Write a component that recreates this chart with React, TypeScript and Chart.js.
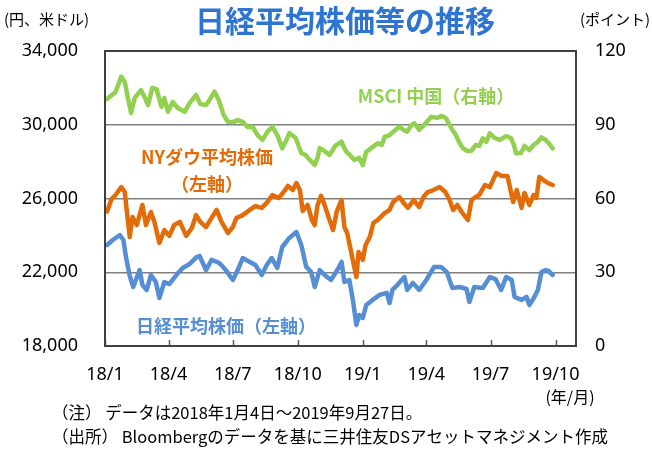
import { useEffect, useRef } from "react";
import { Chart, registerables } from "chart.js";

Chart.register(...registerables);

// ---- data ----
const tickDates = ["2018-01-01", "2018-04-01", "2018-07-01", "2018-10-01", "2019-01-01", "2019-04-01", "2019-07-01", "2019-10-01"];
const tickLabels = ["18/1", "18/4", "18/7", "18/10", "19/1", "19/4", "19/7", "19/10"];
const axisStart = "2018-01-01";
const axisEnd = "2019-10-30";

const leftTicks = { min: 18000, max: 34000, step: 4000 };
const rightTicks = { min: 0, max: 120, step: 30 };

const nikkeiDates = [
  "2018-01-04", "2018-01-12", "2018-01-22", "2018-01-27", "2018-01-31", "2018-02-05", "2018-02-10", "2018-02-19", "2018-02-23", "2018-03-01",
  "2018-03-07", "2018-03-14", "2018-03-19", "2018-03-26", "2018-04-02", "2018-04-12", "2018-04-21", "2018-05-01", "2018-05-11", "2018-05-15",
  "2018-05-24", "2018-06-01", "2018-06-12", "2018-06-21", "2018-07-01", "2018-07-08", "2018-07-15", "2018-07-25", "2018-08-02", "2018-08-11",
  "2018-08-18", "2018-08-25", "2018-09-02", "2018-09-09", "2018-09-19", "2018-09-29", "2018-10-06", "2018-10-13", "2018-10-20", "2018-10-25",
  "2018-11-01", "2018-11-08", "2018-11-17", "2018-11-26", "2018-12-02", "2018-12-06", "2018-12-13", "2018-12-18", "2018-12-23", "2018-12-27",
  "2019-01-01", "2019-01-06", "2019-01-15", "2019-01-25", "2019-02-04", "2019-02-08", "2019-02-12", "2019-02-19", "2019-03-01", "2019-03-05",
  "2019-03-13", "2019-03-22", "2019-04-01", "2019-04-12", "2019-04-22", "2019-04-30", "2019-05-08", "2019-05-18", "2019-05-28", "2019-06-01",
  "2019-06-08", "2019-06-20", "2019-06-30", "2019-07-08", "2019-07-16", "2019-07-23", "2019-07-31", "2019-08-04", "2019-08-14", "2019-08-21",
  "2019-08-25", "2019-09-01", "2019-09-06", "2019-09-11", "2019-09-17", "2019-09-21", "2019-09-27",
];
const nikkeiValues = [
  23480, 23750, 24020, 23750, 22770, 21800, 21200, 22120, 21310, 21040,
  21850, 21470, 20600, 21470, 21360, 21850, 22230, 22450, 22830, 22880,
  22120, 22670, 22500, 22120, 21580, 22120, 22770, 22560, 22390, 21850,
  22390, 22770, 22230, 23370, 23860, 24180, 23480, 22290, 22010, 21200,
  22120, 21850, 21580, 22120, 22560, 21470, 21580, 20500, 19140, 19680,
  19520, 20220, 20500, 20770, 20880, 20330, 21040, 21310, 21740, 21040,
  21420, 21040, 21580, 22290, 22290, 22010, 21150, 21200, 21090, 20390,
  21200, 21150, 21740, 21630, 21040, 21740, 21580, 20660, 20500, 20660,
  20220, 20660, 21040, 22010, 22120, 22070, 21850,
];

const dowDates = [
  "2018-01-04", "2018-01-10", "2018-01-16", "2018-01-24", "2018-01-29", "2018-02-05", "2018-02-09", "2018-02-15", "2018-02-23", "2018-02-28",
  "2018-03-07", "2018-03-12", "2018-03-19", "2018-03-26", "2018-04-02", "2018-04-09", "2018-04-17", "2018-04-26", "2018-05-04", "2018-05-10",
  "2018-05-16", "2018-05-24", "2018-05-30", "2018-06-08", "2018-06-15", "2018-06-24", "2018-07-01", "2018-07-06", "2018-07-15", "2018-07-25",
  "2018-08-02", "2018-08-11", "2018-08-18", "2018-08-26", "2018-09-04", "2018-09-11", "2018-09-17", "2018-09-24", "2018-09-29", "2018-10-04",
  "2018-10-08", "2018-10-15", "2018-10-21", "2018-10-25", "2018-10-29", "2018-11-03", "2018-11-08", "2018-11-14", "2018-11-20", "2018-11-25",
  "2018-12-02", "2018-12-06", "2018-12-10", "2018-12-15", "2018-12-23", "2018-12-26", "2018-12-29", "2019-01-01", "2019-01-05", "2019-01-11",
  "2019-01-16", "2019-01-22", "2019-02-01", "2019-02-08", "2019-02-13", "2019-02-22", "2019-02-28", "2019-03-06", "2019-03-14", "2019-03-22",
  "2019-03-28", "2019-04-03", "2019-04-11", "2019-04-20", "2019-04-28", "2019-05-04", "2019-05-09", "2019-05-15", "2019-05-21", "2019-05-30",
  "2019-06-04", "2019-06-10", "2019-06-15", "2019-06-23", "2019-06-30", "2019-07-09", "2019-07-17", "2019-07-25", "2019-08-02", "2019-08-07",
  "2019-08-14", "2019-08-18", "2019-08-25", "2019-08-31", "2019-09-04", "2019-09-08", "2019-09-14", "2019-09-20", "2019-09-27",
];
const dowValues = [
  25300, 25950, 26190, 26620, 26350, 23910, 25000, 24560, 25650, 24560,
  25270, 24730, 23590, 24290, 23970, 24560, 24730, 23970, 24400, 25100,
  24730, 24450, 24830, 25380, 24730, 24130, 24450, 24940, 25100, 25380,
  25590, 25490, 25760, 26190, 26030, 26350, 26680, 26460, 26840, 26460,
  25320, 25650, 24830, 24560, 25650, 26140, 25650, 24940, 24290, 25270,
  25920, 24450, 24130, 23210, 21740, 23100, 22940, 22670, 23480, 23910,
  24670, 24830, 25210, 25380, 25810, 26080, 25760, 25490, 25920, 25540,
  26080, 26350, 26460, 26620, 26350, 25920, 25380, 25650, 25270, 24830,
  25920, 26080, 26190, 26730, 26620, 27380, 27220, 27220, 25810, 26460,
  25490, 26300, 25650, 26190, 26030, 27170, 27000, 26840, 26730,
];

const msciDates = [
  "2018-01-04", "2018-01-09", "2018-01-16", "2018-01-24", "2018-01-29", "2018-02-03", "2018-02-07", "2018-02-12", "2018-02-21", "2018-02-26",
  "2018-03-03", "2018-03-09", "2018-03-15", "2018-03-22", "2018-03-26", "2018-03-31", "2018-04-07", "2018-04-14", "2018-04-24", "2018-05-01",
  "2018-05-10", "2018-05-16", "2018-05-24", "2018-05-30", "2018-06-05", "2018-06-11", "2018-06-18", "2018-06-24", "2018-07-01", "2018-07-08",
  "2018-07-15", "2018-07-22", "2018-07-29", "2018-08-05", "2018-08-12", "2018-08-19", "2018-08-26", "2018-09-02", "2018-09-09", "2018-09-15",
  "2018-09-19", "2018-09-28", "2018-10-06", "2018-10-12", "2018-10-18", "2018-10-25", "2018-10-29", "2018-11-01", "2018-11-06", "2018-11-15",
  "2018-11-23", "2018-12-02", "2018-12-05", "2018-12-09", "2018-12-15", "2018-12-20", "2018-12-27", "2019-01-01", "2019-01-06", "2019-01-13",
  "2019-01-22", "2019-01-28", "2019-02-01", "2019-02-08", "2019-02-15", "2019-02-22", "2019-02-28", "2019-03-05", "2019-03-11", "2019-03-15",
  "2019-03-22", "2019-03-30", "2019-04-08", "2019-04-16", "2019-04-23", "2019-04-29", "2019-05-04", "2019-05-08", "2019-05-13", "2019-05-18",
  "2019-05-23", "2019-05-29", "2019-06-04", "2019-06-10", "2019-06-15", "2019-06-20", "2019-06-25", "2019-06-30", "2019-07-07", "2019-07-14",
  "2019-07-23", "2019-07-30", "2019-08-03", "2019-08-06", "2019-08-13", "2019-08-18", "2019-08-25", "2019-08-31", "2019-09-06", "2019-09-11",
  "2019-09-17", "2019-09-21", "2019-09-27",
];
const msciValues = [
  100.5, 101.7, 103.3, 109.6, 107.4, 100.1, 94.8, 100.9, 104.1, 101.3,
  98.0, 105.0, 104.5, 97.3, 100.9, 95.3, 99.3, 96.8, 95.3, 98.9,
  102.1, 98.4, 98.0, 100.5, 103.5, 100.1, 94.0, 91.2, 91.1, 91.9,
  91.2, 89.1, 89.2, 85.8, 83.8, 87.1, 89.2, 85.8, 80.5, 83.8,
  86.6, 84.6, 78.5, 77.7, 75.7, 73.6, 76.5, 80.5, 79.7, 77.7,
  81.4, 83.1, 81.0, 79.0, 77.3, 75.7, 76.5, 73.6, 79.0, 80.5,
  82.5, 81.8, 85.1, 85.8, 87.5, 89.2, 87.9, 87.2, 89.9, 90.6,
  87.9, 90.3, 93.3, 92.8, 93.6, 92.6, 89.9, 87.9, 85.8, 82.6,
  80.4, 79.3, 79.4, 81.8, 81.4, 84.5, 83.0, 86.5, 84.6, 83.8,
  85.4, 84.6, 81.8, 78.4, 78.5, 81.4, 79.7, 81.8, 83.0, 84.9,
  83.8, 82.6, 80.4,
];

// ---- styling ----
const GREEN = "#92D050";
const ORANGE = "#E36C09";
const BLUE = "#558ED5";
const TITLE_BLUE = "#2E75D2";
const JP = "'Noto Sans CJK JP', 'Noto Sans', sans-serif";
const NUM = "'Noto Sans', 'Noto Sans CJK JP', sans-serif";

const BASE = Date.parse(axisStart + "T00:00:00Z");
const dayOf = (s: string) => Math.round((Date.parse(s + "T00:00:00Z") - BASE) / 86400000);
const toPoints = (dates: string[], values: number[]) => dates.map((d, i) => ({ x: dayOf(d), y: values[i] }));

const textPlugin = {
  id: "decor",
  afterDraw(chart: any) {
    const { ctx, chartArea: a, scales } = chart;
    ctx.save();
    // x tick marks (inside, upward)
    ctx.strokeStyle = "#595959";
    ctx.lineWidth = 1.5;
    for (const d of tickDates) {
      const x = Math.round(scales.x.getPixelForValue(dayOf(d))) + 0.5;
      ctx.beginPath();
      ctx.moveTo(x, a.bottom);
      ctx.lineTo(x, a.bottom - 6);
      ctx.stroke();
    }
    // frame
    ctx.strokeStyle = "#404040";
    ctx.lineWidth = 2;
    ctx.strokeRect(a.left, a.top, a.right - a.left, a.bottom - a.top);

    const txt = (s: string, x: number, y: number, font: string, color: string, align: CanvasTextAlign = "left") => {
      ctx.font = font;
      ctx.fillStyle = color;
      ctx.textAlign = align;
      ctx.textBaseline = "middle";
      ctx.fillText(s, x, y);
    };
    txt("日経平均株価等の推移", 345, 21, `bold 30px ${JP}`, TITLE_BLUE, "center");
    txt("(円、米ドル)", 4, 19, `15px ${JP}`, "#000", "left");
    txt("(ポイント)", 580, 19, `15px ${JP}`, "#000", "left");
    txt("MSCI 中国（右軸）", 436, 96, `bold 18px ${JP}`, GREEN, "center");
    txt("NYダウ平均株価", 207, 157, `bold 18px ${JP}`, ORANGE, "center");
    txt("（左軸）", 207, 184, `bold 18px ${JP}`, ORANGE, "center");
    txt("日経平均株価（左軸）", 226, 326, `bold 18px ${JP}`, BLUE, "center");
    txt("(年/月)", 570, 397, `16px ${JP}`, "#000", "center");
    txt("（注） データは2018年1月4日～2019年9月27日。", 52, 413, `16.5px ${JP}`, "#000", "left");
    txt("（出所） Bloombergのデータを基に三井住友DSアセットマネジメント作成", 52, 437, `16.5px ${JP}`, "#000", "left");
    ctx.restore();
  },
};

export default function App() {
  const ref = useRef<HTMLCanvasElement | null>(null);
  useEffect(() => {
    if (!ref.current) return;
    const lineStyle = { borderWidth: 4.5, pointRadius: 0, borderJoinStyle: "round" as const, borderCapStyle: "round" as const, tension: 0 };
    const chart = new Chart(ref.current, {
      type: "line",
      data: {
        datasets: [
          { label: "MSCI 中国（右軸）", data: toPoints(msciDates, msciValues), borderColor: GREEN, yAxisID: "y2", ...lineStyle },
          { label: "NYダウ平均株価（左軸）", data: toPoints(dowDates, dowValues), borderColor: ORANGE, yAxisID: "y", ...lineStyle },
          { label: "日経平均株価（左軸）", data: toPoints(nikkeiDates, nikkeiValues), borderColor: BLUE, yAxisID: "y", ...lineStyle },
        ],
      },
      options: {
        responsive: false,
        animation: false,
        layout: { padding: { top: 51, left: 0, right: 0, bottom: 0 } },
        plugins: { legend: { display: false }, tooltip: { enabled: false }, title: { display: false } },
        scales: {
          x: {
            type: "linear",
            min: dayOf(axisStart),
            max: dayOf(axisEnd),
            afterBuildTicks: (scale: any) => {
              scale.ticks = tickDates.map((d) => ({ value: dayOf(d) }));
            },
            afterFit: (scale: any) => {
              scale.height = 103;
            },
            grid: { display: false, drawTicks: false },
            border: { display: false },
            ticks: {
              autoSkip: false,
              maxRotation: 0,
              padding: 18,
              color: "#000",
              font: { family: NUM, size: 18 },
              callback: (_v: any, i: number) => tickLabels[i],
            },
          },
          y: {
            position: "left",
            min: leftTicks.min,
            max: leftTicks.max,
            afterFit: (scale: any) => {
              scale.width = 105;
            },
            grid: { color: "#808080", lineWidth: 1.5, drawTicks: false },
            border: { display: false },
            ticks: {
              stepSize: leftTicks.step,
              padding: 27,
              color: "#000",
              font: { family: NUM, size: 18 },
              callback: (v: any) => Number(v).toLocaleString("en-US"),
            },
          },
          y2: {
            position: "right",
            min: rightTicks.min,
            max: rightTicks.max,
            afterFit: (scale: any) => {
              scale.width = 76;
            },
            grid: { display: false, drawTicks: false },
            border: { display: false },
            ticks: {
              stepSize: rightTicks.step,
              padding: 19,
              color: "#000",
              font: { family: NUM, size: 18 },
            },
          },
        },
      },
      plugins: [textPlugin],
    });
    return () => chart.destroy();
  }, []);
  return (
    <div style={{ position: "fixed", left: 0, top: 0, width: 652, height: 449, background: "#fff" }}>
      <canvas ref={ref} width={652} height={449} style={{ width: 652, height: 449, display: "block" }} />
    </div>
  );
}
